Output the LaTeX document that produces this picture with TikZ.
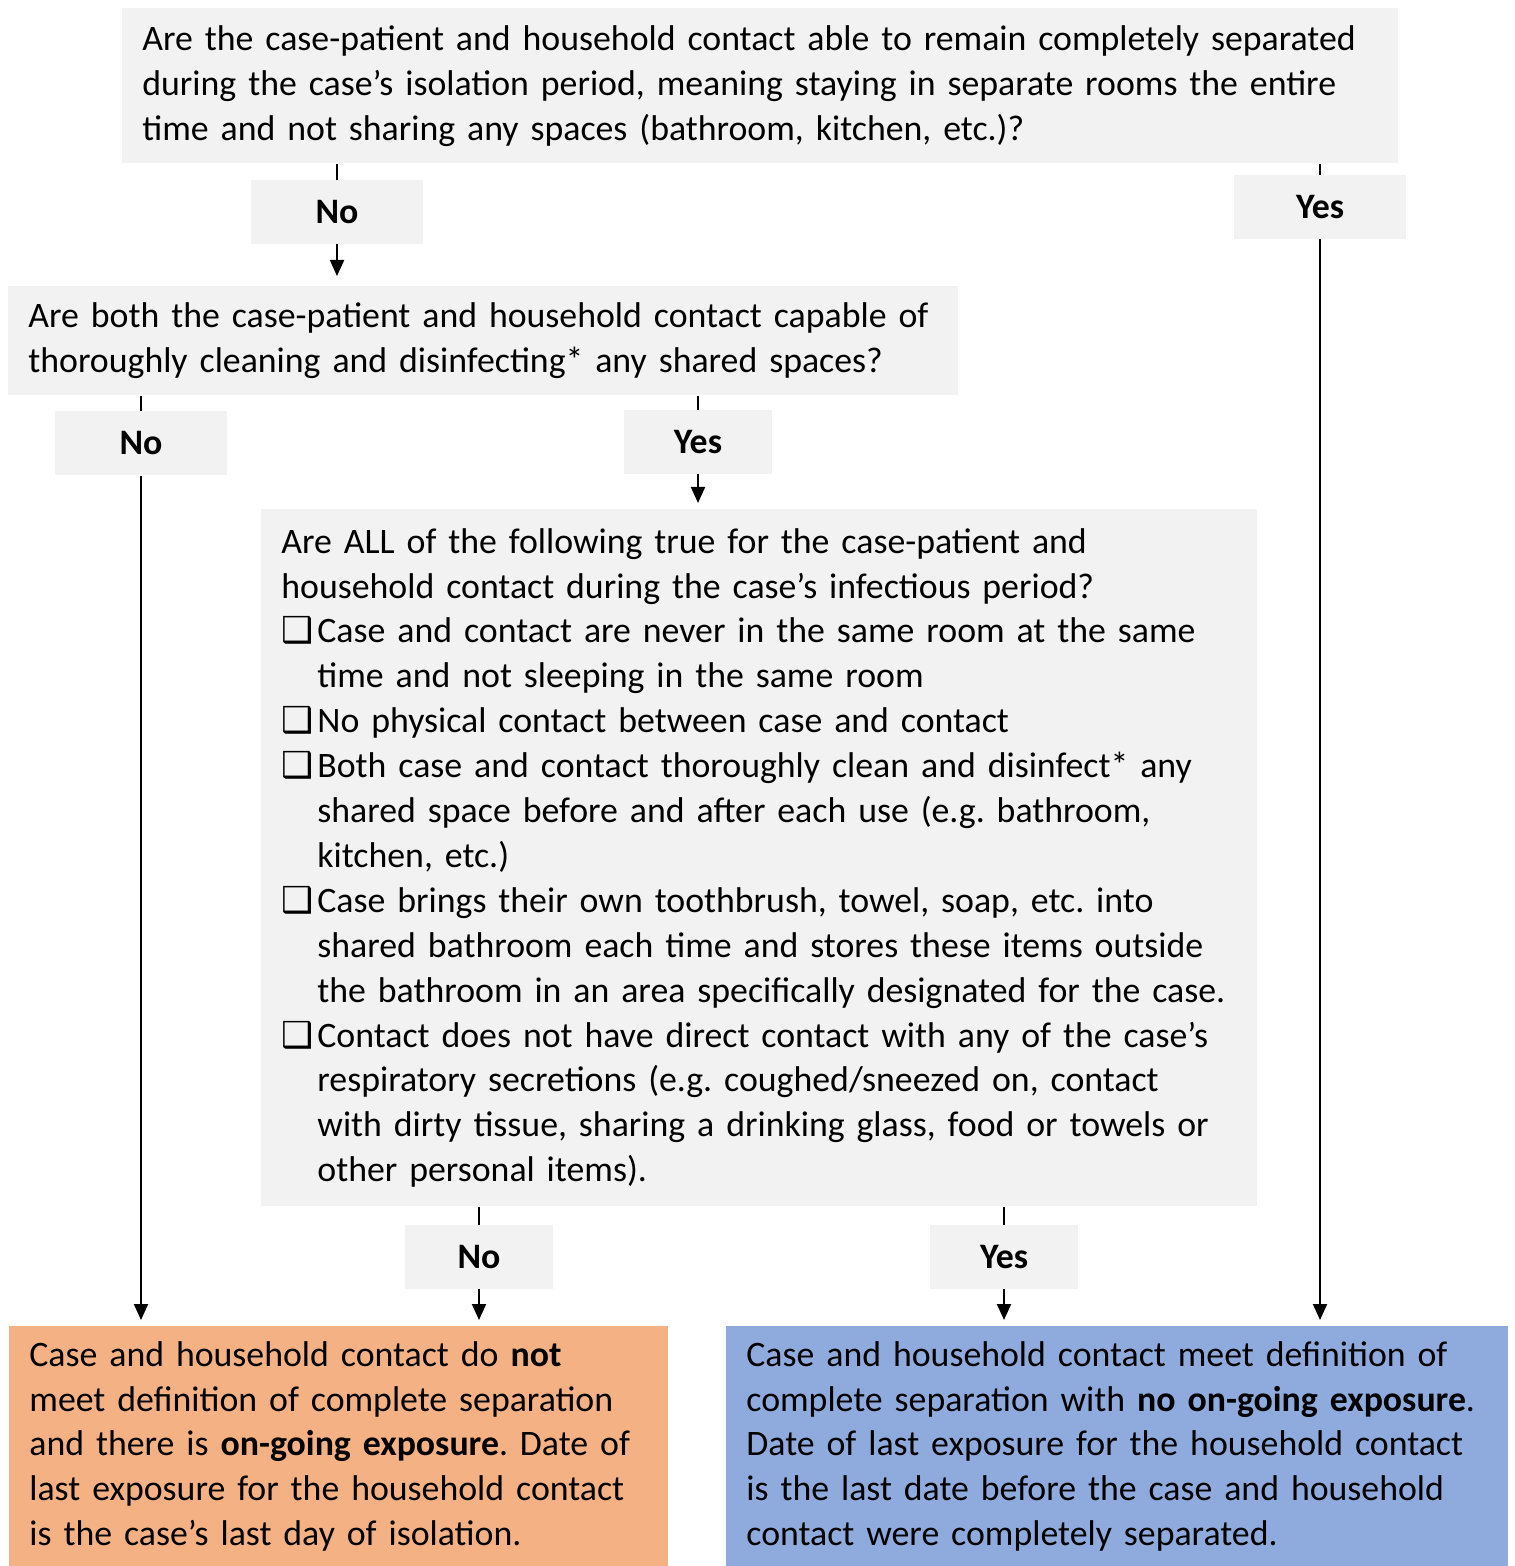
\documentclass[tikz,border=0pt]{standalone}
\usepackage{fontspec}
\setmainfont{Carlito}
\newfontfamily\symfont{DejaVu Sans}
\usetikzlibrary{arrows.meta}
\definecolor{boxgray}{HTML}{F2F2F2}
\definecolor{badorange}{HTML}{F4B183}
\definecolor{okblue}{HTML}{8FAADC}
\newcommand{\chkbox}{\makebox[18pt][l]{\symfont ❑}}
\newcommand{\chkgap}{\hspace*{18pt}}
\frenchspacing

\begin{document}
\begin{tikzpicture}[
		x=0.5pt,y=-0.5pt,
		every node/.style={font=\fontsize{17.9}{22.45}\selectfont},
		question/.style={fill=boxgray,anchor=north west,align=left,inner xsep=10pt,inner ysep=0pt},
		outcome/.style={anchor=north west,align=left,inner xsep=10pt,inner ysep=0pt,minimum height=120pt},
		answer/.style={fill=boxgray,font=\fontsize{17.9}{22.45}\selectfont\bfseries,minimum height=32pt,minimum width=86pt},
		answer small/.style={answer,minimum width=74pt},
		link/.style={line width=1pt},
		arrow/.style={line width=1pt,-{Triangle[length=8pt,width=7pt]},shorten >=3pt}
		]
		\useasboundingbox (0,0) rectangle (1514,1566);
		% questions
		\node[question,text width=618pt,minimum height=77.5pt] (q1) at (122,8)
			{Are the case-patient and household contact able to remain completely separated\\
			during the case’s isolation period, meaning staying in separate rooms the entire\\
			time and not sharing any spaces (bathroom, kitchen, etc.)?};
		\node[question,text width=455pt,minimum height=54.5pt] (q2) at (8,286)
			{Are both the case-patient and household contact capable of\\
			thoroughly cleaning and disinfecting* any shared spaces?};
		\node[question,text width=478pt,minimum height=348.5pt] (q3) at (261,509)
			{Are ALL of the following true for the case-patient and\\
			household contact during the case’s infectious period?\\
			\chkbox Case and contact are never in the same room at the same\\
			\chkgap time and not sleeping in the same room\\
			\chkbox No physical contact between case and contact\\
			\chkbox Both case and contact thoroughly clean and disinfect* any\\
			\chkgap shared space before and after each use (e.g. bathroom,\\
			\chkgap kitchen, etc.)\\
			\chkbox Case brings their own toothbrush, towel, soap, etc. into\\
			\chkgap shared bathroom each time and stores these items outside\\
			\chkgap the bathroom in an area specifically designated for the case.\\
			\chkbox Contact does not have direct contact with any of the case’s\\
			\chkgap respiratory secretions (e.g. coughed/sneezed on, contact\\
			\chkgap with dirty tissue, sharing a drinking glass, food or towels or\\
			\chkgap other personal items).};
		% outcomes
		\node[outcome,fill=badorange,text width=309.5pt] (bad) at (9,1326)
			{Case and household contact do \textbf{not}\\
			meet definition of complete separation\\
			and there is \textbf{on-going exposure}. Date of\\
			last exposure for the household contact\\
			is the case’s last day of isolation.};
		\node[outcome,fill=okblue,text width=371pt] (ok) at (726,1326)
			{Case and household contact meet definition of\\
			complete separation with \textbf{no on-going exposure}.\\
			Date of last exposure for the household contact\\
			is the last date before the case and household\\
			contact were completely separated.};
		% answers
		\node[answer] (no1) at (337,212) {No};
		\node[answer] (yes1) at (1320,207) {Yes};
		\node[answer] (no2) at (141,443.5) {No};
		\node[answer small] (yes2) at (698,442) {Yes};
		\node[answer small] (no3) at (479,1257) {No};
		\node[answer small] (yes3) at (1004,1257) {Yes};
		% connectors
		\draw[link] (q1.south -| no1) -- (no1.north);
		\draw[arrow,shorten >=5pt] (no1.south) -- (q2.north -| no1);
		\draw[link] (q1.south -| yes1) -- (yes1.north);
		\draw[arrow] (yes1.south) -- (ok.north -| yes1);
		\draw[link] (q2.south -| no2) -- (no2.north);
		\draw[arrow] (no2.south) -- (bad.north -| no2);
		\draw[link] (q2.south -| yes2) -- (yes2.north);
		\draw[arrow] (yes2.south) -- (q3.north -| yes2);
		\draw[link] (q3.south -| no3) -- (no3.north);
		\draw[arrow] (no3.south) -- (bad.north -| no3);
		\draw[link] (q3.south -| yes3) -- (yes3.north);
		\draw[arrow] (yes3.south) -- (ok.north -| yes3);
\end{tikzpicture}
\end{document}
